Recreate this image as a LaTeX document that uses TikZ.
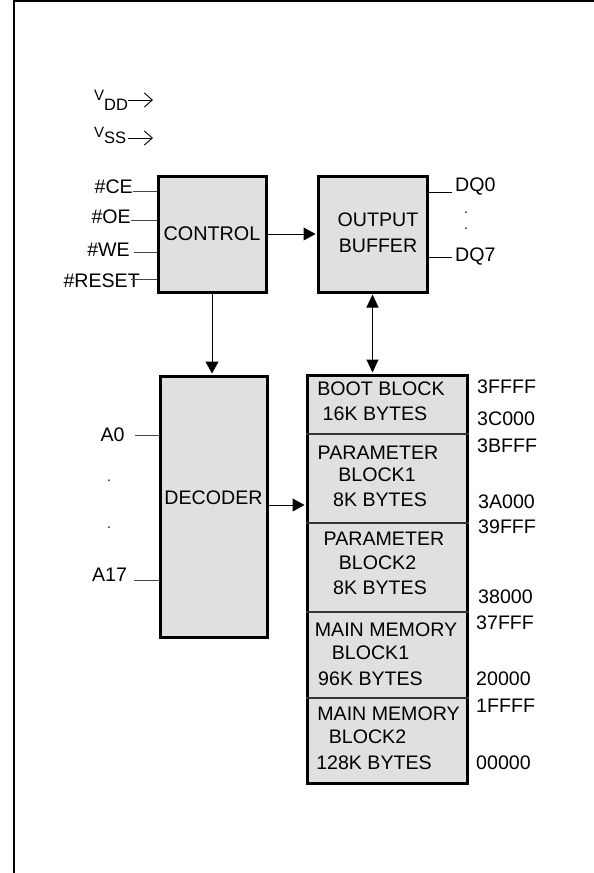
\documentclass[tikz,border=0pt]{standalone}
\usepackage{fontspec}
\setmainfont{Liberation Sans}
\usetikzlibrary{arrows.meta}
\definecolor{boxgray}{RGB}{224,224,224}
\definecolor{wiregray}{RGB}{70,70,70}
\begin{document}
\begin{tikzpicture}[x=1pt,y=-1pt,
  box/.style={draw=black, line width=3pt, fill=boxgray, inner sep=0pt},
  txt/.style={inner sep=0pt, font=\fontsize{19.6}{22}\selectfont},
  wire/.style={line width=1pt, draw=wiregray},
  divider/.style={line width=1.2pt, draw=black!80},
  arr/.style={line width=1pt, -{Triangle[length=12pt,width=13pt]}, shorten >=1pt},
  biarr/.style={line width=1pt, {Triangle[length=13pt,width=12pt]}-{Triangle[length=13pt,width=12pt]}, shorten >=1pt, shorten <=1pt},
  openarr/.style={line width=0.9pt, -{Straight Barb[length=8pt,width=14pt]}}
]
\useasboundingbox (0,0) rectangle (594,873);
% frame
\draw[line width=2.5pt] (14,873) -- (14,1.2) -- (594,1.2);

% supply labels
\node[anchor=base west, inner sep=0pt] (vdd) at (94,100)
  {\fontsize{15}{15}\selectfont V\raisebox{-10pt}{\fontsize{16.5}{16}\selectfont DD}};
\node[anchor=base west, inner sep=0pt] (vss) at (94,137)
  {\fontsize{15}{15}\selectfont V\raisebox{-6.5pt}{\fontsize{16.5}{16}\selectfont SS}};
\coordinate (vddA) at (128,100);
\coordinate (vddB) at (153,100);
\coordinate (vssA) at (128,138);
\coordinate (vssB) at (153,138);
\draw[openarr] (vddA) -- (vddB);
\draw[openarr] (vssA) -- (vssB);

% boxes
\node[box, minimum width=108pt, minimum height=116pt] (control) at (212,234)
  {\fontsize{19.8}{22}\selectfont CONTROL};
\node[box, minimum width=109pt, minimum height=116pt] (output) at (372.5,234) {};
\node[txt, align=center, font=\fontsize{19.6}{26}\selectfont] (obtxt) at (378,233) {OUTPUT\\BUFFER};
\node[box, minimum width=107pt, minimum height=261pt] (decoder) at (213.5,506.5) {};
\node[txt] (dectxt) at (213.5,498) {DECODER};
\node[box, minimum width=160pt, minimum height=408pt] (memory) at (387,579) {};

% memory dividers
\coordinate (d1) at (0,434);
\coordinate (d2) at (0,523);
\coordinate (d3) at (0,612);
\coordinate (d4) at (0,698);
\foreach \d in {d1,d2,d3,d4}
  \draw[divider] (memory.west |- \d) -- (memory.east |- \d);

% memory texts
\node[txt] (m1a) at (381,389) {BOOT BLOCK};
\node[txt] (m1b) at (375,414) {16K BYTES};
\node[txt] (m2a) at (378,453) {PARAMETER};
\node[txt] (m2b) at (377,475) {BLOCK1};
\node[txt] (m2c) at (380,500) {8K BYTES};
\node[txt] (m3a) at (384,539) {PARAMETER};
\node[txt] (m3b) at (377.5,563) {BLOCK2};
\node[txt] (m3c) at (380,588) {8K BYTES};
\node[txt] (m4a) at (386,630) {MAIN MEMORY};
\node[txt] (m4b) at (370.5,653) {BLOCK1};
\node[txt] (m4c) at (370.5,679) {96K BYTES};
\node[txt] (m5a) at (388.5,714) {MAIN MEMORY};
\node[txt] (m5b) at (367.5,737) {BLOCK2};
\node[txt] (m5c) at (374,763) {128K BYTES};

% addresses
\node[txt, anchor=west] (ad1) at (477,387) {3FFFF};
\node[txt, anchor=west] (ad2) at (477,419) {3C000};
\node[txt, anchor=west] (ad3) at (477,446) {3BFFF};
\node[txt, anchor=west] (ad4) at (478,502) {3A000};
\node[txt, anchor=west] (ad5) at (478,527) {39FFF};
\node[txt, anchor=west] (ad6) at (478,597) {38000};
\node[txt, anchor=west] (ad7) at (476,623) {37FFF};
\node[txt, anchor=west] (ad8) at (476,679) {20000};
\node[txt, anchor=west] (ad9) at (476,706) {1FFFF};
\node[txt, anchor=west] (ad10) at (476,763) {00000};

% control inputs
\node[txt, anchor=east] (ce) at (133,187) {\#CE};
\node[txt, anchor=east] (oe) at (131,217) {\#OE};
\node[txt, anchor=east] (we) at (130,250) {\#WE};
\node[txt, anchor=east] (reset) at (140,281) {\#RESET};
\coordinate (ceL) at (133,191);
\coordinate (oeL) at (131,220);
\coordinate (weL) at (134,252);
\coordinate (resetL) at (131,279);
\draw[wire] (ceL) -- (ceL -| control.west);
\draw[wire] (oeL) -- (oeL -| control.west);
\draw[wire] (weL) -- (weL -| control.west);
\draw[wire] (resetL) -- (resetL -| control.west);

% outputs
\coordinate (dq0L) at (452,192);
\coordinate (dq7L) at (452,257);
\draw[wire, draw=black] (dq0L -| output.east) -- (dq0L);
\draw[wire, draw=black] (dq7L -| output.east) -- (dq7L);
\node[txt, anchor=west] (dq0) at (455,187) {DQ0};
\node[txt, anchor=west] (dq7) at (455,257) {DQ7};
\node[inner sep=0pt] (dqd1) at (466,213) {\fontsize{14}{14}\selectfont .};
\node[inner sep=0pt] (dqd2) at (466,229) {\fontsize{14}{14}\selectfont .};

% address inputs
\node[txt] (a0) at (112.5,435) {A0};
\node[txt] (a17) at (109.5,575) {A17};
\node[inner sep=0pt] (ad1dot) at (109,481) {\fontsize{14}{14}\selectfont .};
\node[inner sep=0pt] (ad2dot) at (109,528) {\fontsize{14}{14}\selectfont .};
\coordinate (a0L) at (135,435);
\coordinate (a17L) at (134,580);
\draw[wire] (a0L) -- (a0L -| decoder.west);
\draw[wire] (a17L) -- (a17L -| decoder.west);

% arrows
\draw[arr] (control.east) -- (output.west);
\draw[arr] (control.south) -- (control.south |- decoder.north);
\draw[biarr] (output.south) -- (output.south |- memory.north);
\draw[arr] (decoder.east |- 0,505) -- (memory.west |- 0,505);
\end{tikzpicture}
\end{document}
